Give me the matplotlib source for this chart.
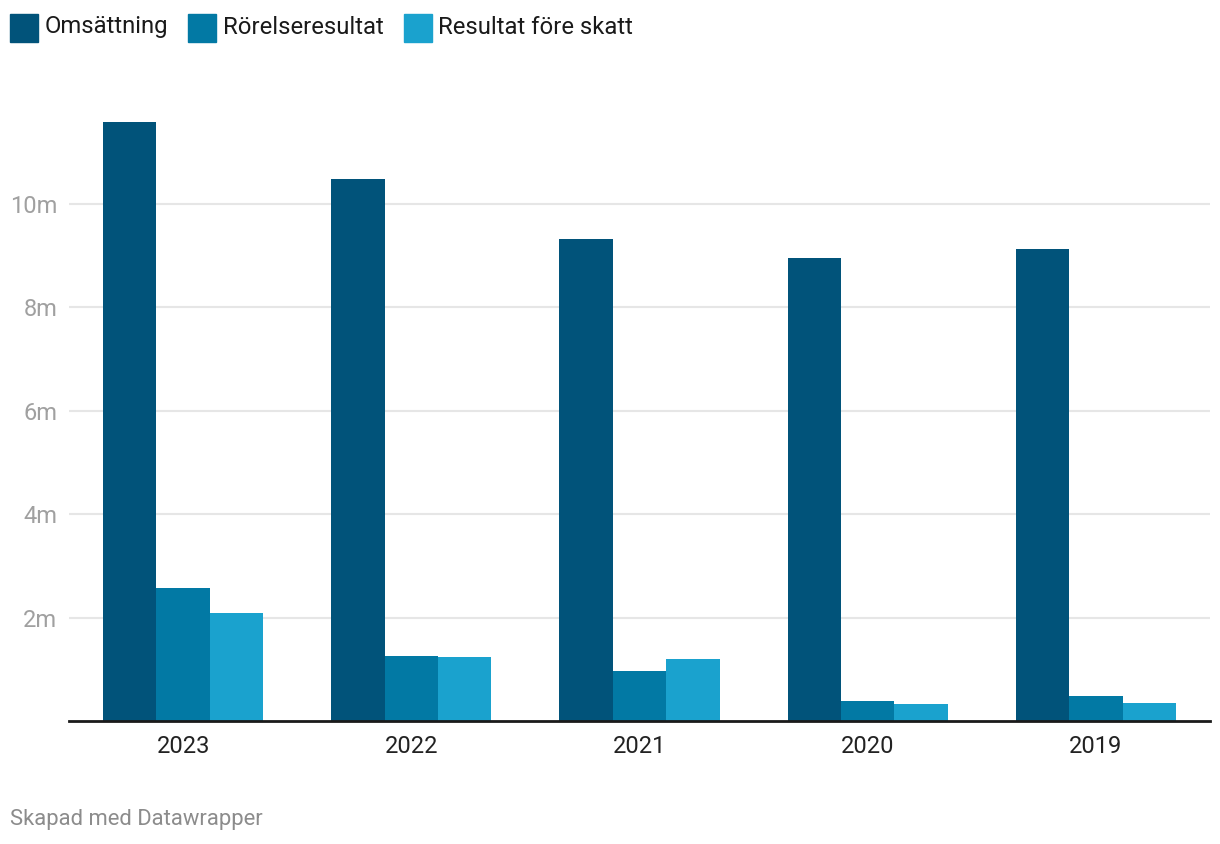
import numpy as np
import matplotlib
matplotlib.use("Agg")
import matplotlib.pyplot as plt
from matplotlib.patches import Rectangle

plt.rcParams['font.family'] = ['Roboto', 'DejaVu Sans']

# data (miljoner)
years = ['2023', '2022', '2021', '2020', '2019']
omsattning = [11.59, 10.48, 9.32, 8.96, 9.13]
rorelseresultat = [2.57, 1.26, 0.97, 0.39, 0.48]
resultat_fore_skatt = [2.09, 1.24, 1.20, 0.33, 0.35]

series = ['Omsättning', 'Rörelseresultat', 'Resultat före skatt']
colors = ['#01537a', '#0279a4', '#1aa2ce']
values = [omsattning, rorelseresultat, resultat_fore_skatt]

W, H = 1220, 844
fig = plt.figure(figsize=(W / 100, H / 100), dpi=100)
ax = fig.add_axes([69 / W, 1 - 721 / H, (1210 - 69) / W, (721 - 100.6) / H])

x = np.arange(len(years))
bw = 0.234
for i, (vals, c) in enumerate(zip(values, colors)):
    ax.bar(x + (i - 1) * bw, vals, width=bw, color=c, zorder=3, linewidth=0)

ax.set_xlim(-0.5, 4.5)
ax.set_ylim(0, 12)
ax.set_yticks([2, 4, 6, 8, 10])
ax.set_yticklabels(['2m', '4m', '6m', '8m', '10m'], color='#a0a0a0', fontsize=17)
ax.set_xticks(x)
ax.set_xticklabels(years, fontsize=17, color='#222222')
ax.tick_params(axis='both', length=0)
ax.tick_params(axis='y', pad=8.5)
ax.tick_params(axis='x', pad=10)
ax.grid(axis='y', color='#e6e6e6', linewidth=1.5, zorder=0)
for s in ['top', 'right', 'left']:
    ax.spines[s].set_visible(False)
ax.spines['bottom'].set_color('#1a1a1a')
ax.spines['bottom'].set_linewidth(2)
ax.spines['bottom'].set_zorder(4)

# legend
sq_x = [10, 188, 404]
txt_x = [45, 223, 438]
for name, c, sx, tx in zip(series, colors, sq_x, txt_x):
    fig.patches.append(Rectangle((sx / W, 1 - 42 / H), 28 / W, 28 / H,
                                 transform=fig.transFigure, color=c))
    fig.text(tx / W, 1 - 27 / H, name, fontsize=17.2, color='#1a1a1a',
             va='center', ha='left')

fig.text(10 / W, 1 - 819 / H, 'Skapad med Datawrapper', fontsize=15.8,
         color='#8c8c8c', va='center', ha='left')

fig.savefig('out.png', dpi=100, facecolor='white')
